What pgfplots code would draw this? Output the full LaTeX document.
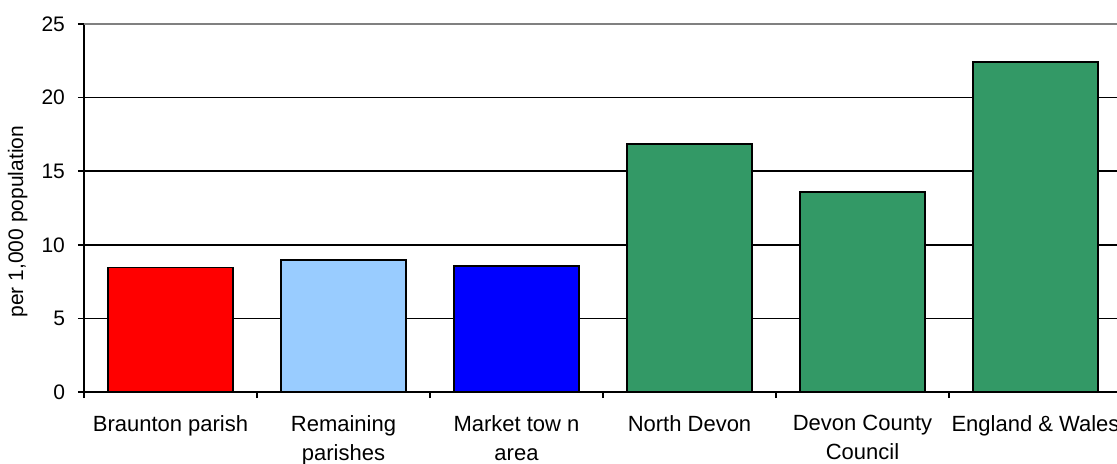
\documentclass[border=0pt]{standalone}
\usepackage{fontspec}
\setmainfont{Liberation Sans}
\usepackage{pgfplots}
\pgfplotsset{compat=1.18}
\definecolor{barred}{HTML}{FF0000}
\definecolor{barlblue}{HTML}{99CCFF}
\definecolor{barblue}{HTML}{0000FF}
\definecolor{bargreen}{HTML}{339966}
\begin{document}
\begin{tikzpicture}
\begin{axis}[
  scale only axis, width=519pt, height=184pt,
  xmin=-0.5, xmax=5.5, ymin=0, ymax=25,
  ytick={0,5,...,25},
  xtick={0,...,5},
  xticklabels={Braunton parish,{Remaining\\parishes},{Market tow n\\area},North Devon,{Devon County\\Council},England \& Wales},
  minor xtick={-0.5,0.5,...,5.5},
  major x tick style={draw=none},
  minor x tick style={black, line width=0.8pt},
  major y tick style={black, line width=0.8pt},
  tick align=outside,
  major tick length=3pt, minor tick length=3pt,
  ymajorgrids, grid style={black, line width=0.8pt},
  axis x line*=bottom, axis y line*=left,
  axis line style={black, line width=0.8pt},
  /pgf/number format/assume math mode=true,
  yticklabel style={font=\fontsize{10.5}{12}\selectfont, xshift=-3pt},
  xticklabel style={font=\fontsize{11}{14.5}\selectfont, align=center, yshift=-5pt},
  ylabel={per 1,000 population},
  ylabel style={font=\fontsize{10.5}{12}\selectfont, at={(axis description cs:-0.0640,0.463)}, anchor=center, rotate=0},
  clip=false,
]
\coordinate (O) at (rel axis cs:0,0);
\addplot[ybar, bar shift=0pt, bar width=62.5pt, fill=barred, draw=black, line width=0.9pt] coordinates {(0,8.46)};
\addplot[ybar, bar shift=0pt, bar width=62.5pt, fill=barlblue, draw=black, line width=0.9pt] coordinates {(1,8.99)};
\addplot[ybar, bar shift=0pt, bar width=62.5pt, fill=barblue, draw=black, line width=0.9pt] coordinates {(2,8.58)};
\addplot[ybar, bar shift=0pt, bar width=62.5pt, fill=bargreen, draw=black, line width=0.9pt] coordinates {(3,16.87)};
\addplot[ybar, bar shift=0pt, bar width=62.5pt, fill=bargreen, draw=black, line width=0.9pt] coordinates {(4,13.6)};
\addplot[ybar, bar shift=0pt, bar width=62.5pt, fill=bargreen, draw=black, line width=0.9pt] coordinates {(5,22.44)};
\draw[gray, line width=1pt] (rel axis cs:0,1) -- (rel axis cs:1,1);
\end{axis}
\pgfresetboundingbox
\path[use as bounding box] ([shift={(-42pt,-35.5pt)}]O) rectangle ++(558.5pt,231.5pt);
\end{tikzpicture}
\end{document}
